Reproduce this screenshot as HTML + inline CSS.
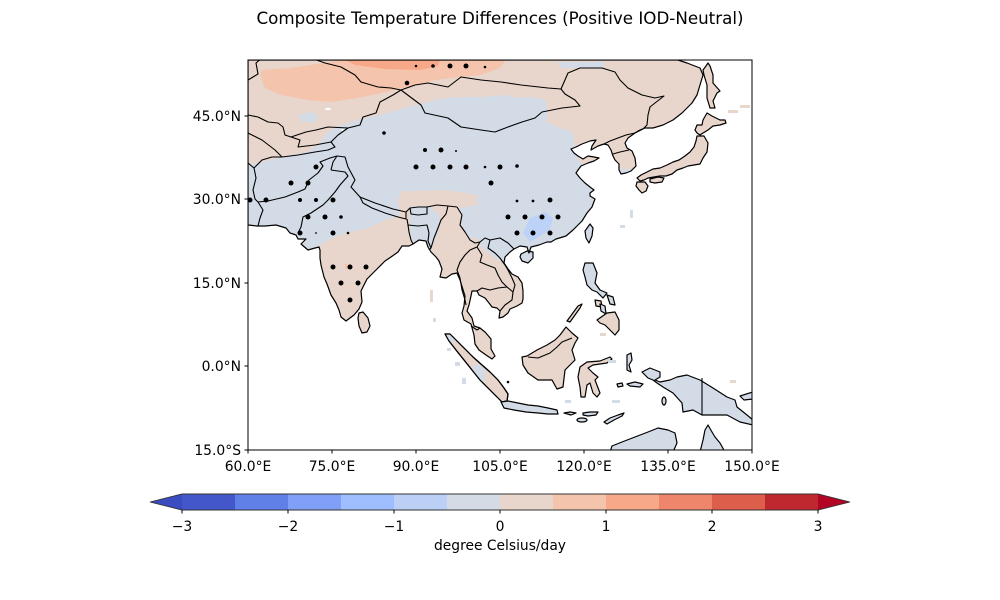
<!DOCTYPE html>
<html><head><meta charset="utf-8"><style>
html,body{margin:0;padding:0;background:#fff;}
svg{display:block;font-family:"DejaVu Sans","Liberation Sans",sans-serif;}
</style></head><body>
<svg width="1000" height="600" viewBox="0 0 1000 600" xmlns="http://www.w3.org/2000/svg">
<defs>
<clipPath id="mapclip"><rect x="248" y="60" width="504" height="390"/></clipPath>
<clipPath id="mainclip"><path id="mlp" d="M248,60 L678,60 L687,63 L700,68 L703,75 L700,85 L697,95 L692,103 L682,113 L673,120 L663,125 L653,128 L645,128 L640,130 L635,133 L628,138 L625,143 L627,148 L632,151 L635,158 L636,166 L631,171 L626,173 L621,174 L619,170 L619,164 L615,160 L613,156 L611,150 L608,145 L604,144 L598,146 L591,150 L592,146 L596,140 L590,141 L582,144 L576,147 L571,149 L574,153 L578,156 L583,159 L588,156 L594,157 L599,158 L594,161 L588,163 L581,166 L578,170 L576,173 L580,178 L585,183 L590,187 L594,190 L590,193 L590,196 L595,199 L592,207 L587,213 L582,221 L573,230 L566,236 L556,239 L551,242 L547,242 L539,245 L531,247 L529,253 L527,247 L520,246 L514,249 L510,252 L505,257 L504,263 L508,269 L512,274 L518,277 L522,283 L523,291 L523,299 L522,303 L517,306 L510,309 L508,313 L503,317 L499,318 L500,311 L497,308 L492,307 L489,303 L485,298 L479,295 L477,291 L472,291 L471,296 L469,305 L467,311 L472,318 L474,326 L480,328 L485,332 L491,339 L491,349 L495,356 L492,359 L486,355 L479,350 L475,344 L474,335 L471,324 L464,320 L462,313 L464,306 L465,296 L460,280 L457,273 L452,274 L446,278 L440,277 L442,269 L439,261 L436,257 L431,252 L428,247 L426,241 L419,240 L413,244 L409,246 L402,246 L398,252 L391,257 L385,261 L378,268 L372,274 L367,279 L361,291 L362,302 L359,309 L354,315 L350,318 L346,321 L341,317 L339,310 L336,303 L331,295 L327,284 L324,277 L321,265 L320,258 L320,250 L319,247 L315,248 L308,250 L301,244 L306,239 L298,239 L296,235 L290,233 L286,228 L276,225 L265,226 L257,226 L248,225 Z"/></clipPath>
<clipPath id="sumclip"><path d="M445,334 L450,334 L457,341 L465,349 L473,357 L482,365 L490,372 L498,380 L504,388 L508,394 L507,401 L502,402 L496,396 L488,388 L480,380 L472,370 L464,360 L456,350 L449,341 Z"/></clipPath>
</defs>
<rect width="1000" height="600" fill="#fff"/>

<text x="500" y="24" font-size="16.67" text-anchor="middle" textLength="487" lengthAdjust="spacingAndGlyphs" fill="#000">Composite Temperature Differences (Positive IOD-Neutral)</text>

<g clip-path="url(#mapclip)">
  <!-- mainland fill -->
  <use href="#mlp" fill="#e8d6cc"/>
  <g clip-path="url(#mainclip)">
    <path fill="#d3dbe7" d="M248,165 L262,162 L278,158 L291,155 L308,152 L318,145 L325,135 L335,127 L358,120 L375,116 L391,112 L405,108 L421,104 L435,100 L448,98 L465,97 L481,97 L495,96 L508,95 L515,98 L530,97 L545,100 L548,112 L546,122 L560,128 L572,132 L575,145 L578,160 L585,166 L640,170 L640,270 L520,272 L512,268 L505,262 L495,258 L487,252 L480,245 L477,238 L478,215 L477,195 L460,192 L440,190 L420,191 L402,191 L398,200 L400,215 L381,222 L365,229 L348,232 L331,239 L318,246 L310,260 L248,260 Z"/>
    <path fill="#d3dbe7" d="M410,206 L428,206 L440,215 L438,232 L432,248 L418,248 L410,235 Z"/>
    <path fill="#d3dbe7" d="M460,208 L477,205 L478,238 L468,238 L462,225 Z"/>
    <path fill="#d3dbe7" d="M298,116 L308,112 L318,115 L316,122 L302,122 Z"/>
    <path fill="#d3dbe7" d="M558,62 L605,62 L604,68 L560,68 Z"/>
    <path fill="#bcd2f7" d="M523,233 L530,218 L545,212 L553,218 L550,230 L540,236 L530,242 Z"/>
    <path fill="#f5c4ad" d="M260,75 L265,88 L281,95 L308,100 L331,102 L358,98 L381,93 L395,90 L415,85 L435,80 L460,77 L481,75 L500,68 L506,60 L345,60 L330,62 L290,68 L262,70 Z"/>
    <path fill="#f7a889" d="M345,60 L440,60 L438,66 L420,70 L385,69 L355,65 Z"/>
    <rect x="345" y="264" width="6" height="5" fill="#f5c4ad"/>
    <ellipse cx="328" cy="109" rx="3" ry="1.2" fill="#fff"/>
    <ellipse cx="343" cy="130" rx="2" ry="1" fill="#fff"/>
  </g>

  <!-- islands -->
  <g stroke="#000" stroke-width="1.2" stroke-linejoin="round">
    <path fill="#e8d6cc" d="M359,313 L363,312 L368,318 L370,326 L367,332 L362,333 L359,326 L358,318 Z"/>
    <path fill="#d3dbe7" d="M521,254 L527,251 L533,252 L533,258 L528,263 L522,261 L520,257 Z"/>
    <path fill="#d3dbe7" d="M590,224 L593,228 L592,236 L589,243 L586,238 L585,231 Z"/>
    <g>
      <path fill="#e8d6cc" d="M445,334 L450,334 L457,341 L465,349 L473,357 L482,365 L490,372 L498,380 L504,388 L508,394 L507,401 L502,402 L496,396 L488,388 L480,380 L472,370 L464,360 L456,350 L449,341 Z"/>
      <g clip-path="url(#sumclip)" stroke="none">
        <ellipse cx="450" cy="338" rx="7" ry="5" fill="#d3dbe7"/>
        <ellipse cx="478" cy="375" rx="7" ry="11" fill="#d3dbe7"/>
      </g>
      <path fill="none" d="M445,334 L450,334 L457,341 L465,349 L473,357 L482,365 L490,372 L498,380 L504,388 L508,394 L507,401 L502,402 L496,396 L488,388 L480,380 L472,370 L464,360 L456,350 L449,341 Z"/>
    </g>
    <path fill="#d3dbe7" d="M501,402 L508,401 L518,403 L528,405 L538,406 L548,408 L557,410 L558,414 L548,414 L538,413 L526,412 L514,410 L504,408 Z"/>
    <path fill="#d3dbe7" d="M564,413 L570,412 L576,413 L571,415 Z"/>
    <path fill="#d3dbe7" d="M583,413 L590,412 L598,412 L596,415 L588,416 L583,415 Z"/>
    <ellipse cx="582" cy="420" rx="5" ry="2" fill="#d3dbe7"/>
    <path fill="#d3dbe7" d="M604,422 L610,418 L618,415 L624,413 L622,416 L614,420 L607,424 Z"/>
    <path fill="#e8d6cc" d="M566,327 L572,333 L578,338 L575,343 L572,350 L575,360 L570,365 L565,370 L563,387 L557,389 L552,380 L538,380 L528,373 L523,365 L522,357 L527,356 L537,350 L547,345 L555,340 L560,335 Z"/>
    <path fill="#e8d6cc" d="M580,367 L587,362 L600,361 L610,357 L612,359 L607,363 L593,365 L588,368 L593,373 L598,377 L595,380 L600,393 L597,397 L593,393 L590,383 L587,385 L585,397 L581,397 L580,387 L578,377 Z"/>
    <path fill="#d3dbe7" d="M585,263 L593,263 L597,273 L595,283 L600,290 L607,293 L603,298 L597,292 L592,290 L587,285 L585,277 L583,270 Z"/>
    <path fill="#d3dbe7" d="M607,295 L613,297 L615,305 L610,304 Z"/>
    <path fill="#e8d6cc" d="M595,300 L601,301 L602,307 L596,306 Z"/>
    <path fill="#d3dbe7" d="M600,304 L605,306 L606,314 L601,311 Z"/>
    <path fill="#e8d6cc" d="M597,320 L607,313 L615,312 L619,320 L619,330 L615,335 L610,330 L605,325 L600,323 Z"/>
    <path fill="#e8d6cc" d="M567,321 L578,306 L582,304 L580,308 L570,322 Z"/>
    <path fill="#d3dbe7" d="M627,355 L631,353 L632,360 L629,365 L631,372 L627,370 Z"/>
    <path fill="#d3dbe7" d="M627,384 L635,382 L643,384 L640,387 L630,386 Z"/>
    <path fill="#d3dbe7" d="M617,384 L622,383 L623,386 L618,387 Z"/>
    <path fill="#d3dbe7" d="M642,372 L650,368 L660,372 L660,377 L655,380 L660,382 L670,380 L677,377 L687,375 L700,380 L713,388 L727,397 L735,400 L737,407 L747,415 L753,420 L753,425 L740,422 L727,415 L713,415 L702,415 L693,410 L683,412 L682,403 L673,393 L663,387 L657,383 L653,380 L648,378 Z"/>
    <ellipse cx="664" cy="401" rx="2" ry="4" fill="#d3dbe7"/>
    <path fill="#d3dbe7" d="M740,396 L753,392 L753,399 L744,400 Z"/>
    <path fill="#d3dbe7" d="M610,452 L612,446 L622,442 L635,437 L648,432 L658,428 L668,430 L675,433 L677,443 L673,452 Z"/>
    <path fill="#d3dbe7" d="M700,452 L703,440 L705,430 L708,425 L712,432 L715,437 L720,443 L725,452 Z"/>
    <path fill="#e8d6cc" d="M708,63 L710,66 L713,75 L713,83 L720,91 L717,93 L713,101 L715,108 L710,108 L707,98 L707,85 L704,75 L703,70 L706,66 Z"/>
    <path fill="#e8d6cc" d="M707,113 L712,116 L720,120 L725,120 L726,123 L720,125 L713,126 L708,130 L703,133 L700,135 L697,133 L695,130 L697,125 L702,125 L703,120 Z"/>
    <path fill="#e8d6cc" d="M697,136 L704,136 L708,143 L707,152 L703,158 L700,164 L694,165 L688,166 L683,168 L677,170 L672,174 L666,176 L660,176 L654,177 L648,178 L644,180 L640,181 L637,178 L641,175 L647,172 L653,169 L660,168 L667,165 L673,162 L679,160 L685,156 L690,152 L694,147 L696,141 Z"/>
    <path fill="#e8d6cc" d="M637,182 L645,182 L648,186 L646,191 L642,193 L639,190 L636,186 Z"/>
    <path fill="#e8d6cc" d="M650,179 L658,177 L664,178 L662,182 L655,183 L650,182 Z"/>
  </g>

  <!-- small ocean data spots -->
  <g stroke="none">
    <rect x="430" y="290" width="3" height="12" fill="#e8d6cc"/>
    <rect x="433" y="318" width="3" height="4" fill="#d3dbe7"/>
    <rect x="447" y="348" width="4" height="3" fill="#d3dbe7"/>
    <rect x="455" y="362" width="5" height="4" fill="#d3dbe7"/>
    <rect x="462" y="378" width="4" height="6" fill="#d3dbe7"/>
    <rect x="600" y="333" width="6" height="3" fill="#e8d6cc"/>
    <rect x="730" y="380" width="6" height="3" fill="#e8d6cc"/>
    <rect x="728" y="110" width="10" height="3" fill="#e8d6cc"/>
    <rect x="740" y="105" width="10" height="3" fill="#e8d6cc"/>
    <rect x="630" y="210" width="3" height="8" fill="#d3dbe7"/>
    <rect x="620" y="225" width="5" height="3" fill="#d3dbe7"/>
    <rect x="608" y="360" width="8" height="3" fill="#d3dbe7"/>
    <rect x="612" y="400" width="8" height="3" fill="#d3dbe7"/>
    <rect x="565" y="400" width="6" height="3" fill="#d3dbe7"/>
  </g>

  <!-- mainland coastline -->
  <use href="#mlp" fill="none" stroke="#000" stroke-width="1.2" stroke-linejoin="round"/>

  <!-- borders -->
  <g fill="none" stroke="#000" stroke-width="1.1" stroke-linejoin="round">
    <polyline points="248,80 258,74 256,63 262,58"/>
    <polyline points="311,58 325,63 341,67 355,75 361,82 378,87 391,88 401,90 415,85 428,83 448,87 461,77 481,80 501,82 521,85 548,88 561,89"/>
    <polyline points="401,90 421,105 425,113 448,118 461,127 481,130 495,132 508,127 522,122 535,118 542,112 562,108 580,106 575,100 565,94 561,89"/>
    <polyline points="561,89 568,73 580,68 602,68 615,72 620,80 628,88 642,95 655,98 664,96 655,103 650,107 648,115 647,125 643,129"/>
    <polyline points="643,129 635,133 626,135 618,138 610,141 604,144"/>
    <polyline points="613,154 620,152 629,150"/>
    <polyline points="401,90 393,95 380,102 376,113 363,117 360,125 348,128 338,135 331,142"/>
    <polyline points="248,115 258,117 268,122 278,123 283,127 285,135 291,137 306,132 316,130 328,127 348,128"/>
    <polyline points="248,133 262,140 275,150 282,157"/>
    <polyline points="291,137 300,140 298,147 315,145 331,142"/>
    <polyline points="282,157 298,155 315,152 328,150 335,147 331,142"/>
    <polyline points="248,163 254,168 262,160 272,157 282,157"/>
    <polyline points="254,168 256,178 253,190 255,199 258,202"/>
    <polyline points="258,202 263,210 260,218 258,226"/>
    <polyline points="258,202 268,201 285,197 298,192 305,189 309,180 318,173 323,166 320,162 330,158 337,156"/>
    <polyline points="337,156 333,162 331,170"/>
    <polyline points="331,170 345,172 348,176 340,185 335,192 328,200 323,205 311,213 303,217 301,227 298,233"/>
    <polyline points="337,156 345,157 348,167 355,180 351,187 360,197"/>
    <polyline points="360,197 375,203 393,209 406,212"/>
    <polyline points="360,197 363,203 372,208 385,213 398,217 406,219 406,212"/>
    <polyline points="406,212 410,208 418,207 427,207 437,205 448,206 457,207"/>
    <polyline points="410,208 411,214 418,215 427,214 427,207"/>
    <polyline points="448,206 446,214 441,220 438,228 434,238 431,248 429,250"/>
    <polyline points="407,219 408,225 409,232 411,240 413,244"/>
    <polyline points="408,225 418,226 427,225 429,233 428,241 431,248"/>
    <polyline points="457,207 462,215 460,225 465,232 470,240 475,243 480,242"/>
    <polyline points="477,247 470,250 465,255 460,262 457,270 460,278 462,290 465,300 466,305"/>
    <polyline points="480,242 477,247"/>
    <polyline points="480,242 485,238 490,240"/>
    <polyline points="490,240 500,238 508,243 514,249"/>
    <polyline points="490,240 488,248 495,253 500,258 505,265 508,270 512,278 515,285 513,292"/>
    <polyline points="477,247 482,255 480,262 487,265 495,268 498,275 502,282 507,287"/>
    <polyline points="477,291 482,288 490,290 498,288 507,287 513,292 512,300 505,305 500,311"/>
    <polyline points="471,326 477,330 480,328"/>
    <polyline points="528,357 538,358 550,353 557,347 562,342 567,340 572,338"/>
    <polyline points="702,378 702,415"/>
  </g>

  <!-- stippling -->
  <g fill="#000">
    <circle cx="416" cy="66" r="1.3"/><circle cx="433" cy="66" r="1.8"/><circle cx="450" cy="66" r="2.5"/><circle cx="466" cy="66" r="2.5"/><circle cx="485" cy="67" r="1.3"/><circle cx="407" cy="83" r="2.3"/>
    <circle cx="384" cy="133" r="1.8"/><circle cx="425" cy="150" r="2"/><circle cx="441" cy="150" r="2.5"/><circle cx="456" cy="151" r="1"/>
    <circle cx="416" cy="167" r="2.5"/><circle cx="433" cy="167" r="2.5"/><circle cx="450" cy="167" r="2.5"/><circle cx="466" cy="167" r="2.5"/><circle cx="485" cy="167" r="1.3"/><circle cx="500" cy="167" r="2.5"/><circle cx="517" cy="166" r="1.8"/>
    <circle cx="491" cy="183" r="2.5"/><circle cx="316" cy="167" r="2.5"/><circle cx="291" cy="183" r="2.5"/><circle cx="308" cy="183" r="2.5"/>
    <circle cx="250" cy="200" r="2.5"/><circle cx="266" cy="200" r="2.5"/><circle cx="300" cy="200" r="2"/><circle cx="316" cy="200" r="2"/><circle cx="333" cy="200" r="2.5"/>
    <circle cx="308" cy="217" r="2.5"/><circle cx="325" cy="217" r="2.5"/><circle cx="341" cy="217" r="1.8"/>
    <circle cx="300" cy="233" r="2.5"/><circle cx="316" cy="233" r="0.9"/><circle cx="333" cy="233" r="2.5"/><circle cx="348" cy="233" r="1.3"/>
    <circle cx="550" cy="200" r="2.5"/><circle cx="517" cy="201" r="1.4"/><circle cx="533" cy="201" r="1.4"/>
    <circle cx="508" cy="217" r="2.5"/><circle cx="525" cy="217" r="2.5"/><circle cx="542" cy="217" r="2.5"/><circle cx="558" cy="217" r="2.5"/>
    <circle cx="517" cy="233" r="2.5"/><circle cx="533" cy="233" r="2.5"/><circle cx="550" cy="233" r="2.5"/>
    <circle cx="333" cy="267" r="2.5"/><circle cx="350" cy="267" r="2.5"/><circle cx="366" cy="267" r="2.5"/>
    <circle cx="341" cy="283" r="2.5"/><circle cx="358" cy="283" r="2.5"/><circle cx="350" cy="300" r="2.5"/>
    <circle cx="508" cy="382" r="1.3"/>
  </g>
</g>

<!-- frame -->
<rect x="248" y="60" width="504" height="390" fill="none" stroke="#000" stroke-width="1"/>

<!-- y ticks -->
<g stroke="#000" stroke-width="1">
  <line x1="244.5" y1="116" x2="248" y2="116"/>
  <line x1="244.5" y1="199" x2="248" y2="199"/>
  <line x1="244.5" y1="283" x2="248" y2="283"/>
  <line x1="244.5" y1="366" x2="248" y2="366"/>
  <line x1="244.5" y1="450" x2="248" y2="450"/>
  <line x1="248" y1="450" x2="248" y2="453.5"/>
  <line x1="332" y1="450" x2="332" y2="453.5"/>
  <line x1="416" y1="450" x2="416" y2="453.5"/>
  <line x1="500" y1="450" x2="500" y2="453.5"/>
  <line x1="584" y1="450" x2="584" y2="453.5"/>
  <line x1="668" y1="450" x2="668" y2="453.5"/>
  <line x1="752" y1="450" x2="752" y2="453.5"/>
</g>
<g font-size="13.89" fill="#000" text-anchor="end">
  <text x="241" y="121">45.0°N</text>
  <text x="241" y="204">30.0°N</text>
  <text x="241" y="288">15.0°N</text>
  <text x="241" y="371">0.0°N</text>
  <text x="241" y="455">15.0°S</text>
</g>
<g font-size="13.89" fill="#000" text-anchor="middle">
  <text x="248" y="471">60.0°E</text>
  <text x="332" y="471">75.0°E</text>
  <text x="416" y="471">90.0°E</text>
  <text x="500" y="471">105.0°E</text>
  <text x="584" y="471">120.0°E</text>
  <text x="668" y="471">135.0°E</text>
  <text x="752" y="471">150.0°E</text>
</g>

<!-- colorbar -->
<g>
  <polygon points="150,502 182,494 182,510" fill="#3b4cc0"/>
  <rect x="182" y="494" width="53" height="16" fill="#4357cb"/>
  <rect x="235" y="494" width="53" height="16" fill="#6080e8"/>
  <rect x="288" y="494" width="53" height="16" fill="#80a0f8"/>
  <rect x="341" y="494" width="53" height="16" fill="#9ebeff"/>
  <rect x="394" y="494" width="53" height="16" fill="#bcd0f6"/>
  <rect x="447" y="494" width="53" height="16" fill="#d5dbe5"/>
  <rect x="500" y="494" width="53" height="16" fill="#e8d6cc"/>
  <rect x="553" y="494" width="53" height="16" fill="#f5c4ac"/>
  <rect x="606" y="494" width="53" height="16" fill="#f6a889"/>
  <rect x="659" y="494" width="53" height="16" fill="#ed866a"/>
  <rect x="712" y="494" width="53" height="16" fill="#dc5e4b"/>
  <rect x="765" y="494" width="53" height="16" fill="#c0282f"/>
  <polygon points="818,494 850,502 818,510" fill="#b40426"/>
  <polygon points="150,502 182,494 818,494 850,502 818,510 182,510" fill="none" stroke="#333" stroke-width="0.9"/>
</g>
<g stroke="#000" stroke-width="1">
  <line x1="182" y1="510" x2="182" y2="513.5"/>
  <line x1="288" y1="510" x2="288" y2="513.5"/>
  <line x1="394" y1="510" x2="394" y2="513.5"/>
  <line x1="500" y1="510" x2="500" y2="513.5"/>
  <line x1="606" y1="510" x2="606" y2="513.5"/>
  <line x1="712" y1="510" x2="712" y2="513.5"/>
  <line x1="818" y1="510" x2="818" y2="513.5"/>
</g>
<g font-size="13.89" fill="#000" text-anchor="middle">
  <text x="182" y="531">−3</text>
  <text x="288" y="531">−2</text>
  <text x="394" y="531">−1</text>
  <text x="500" y="531">0</text>
  <text x="606" y="531">1</text>
  <text x="712" y="531">2</text>
  <text x="818" y="531">3</text>
  <text x="500" y="550" textLength="132" lengthAdjust="spacingAndGlyphs">degree Celsius/day</text>
</g>
</svg>
</body></html>
